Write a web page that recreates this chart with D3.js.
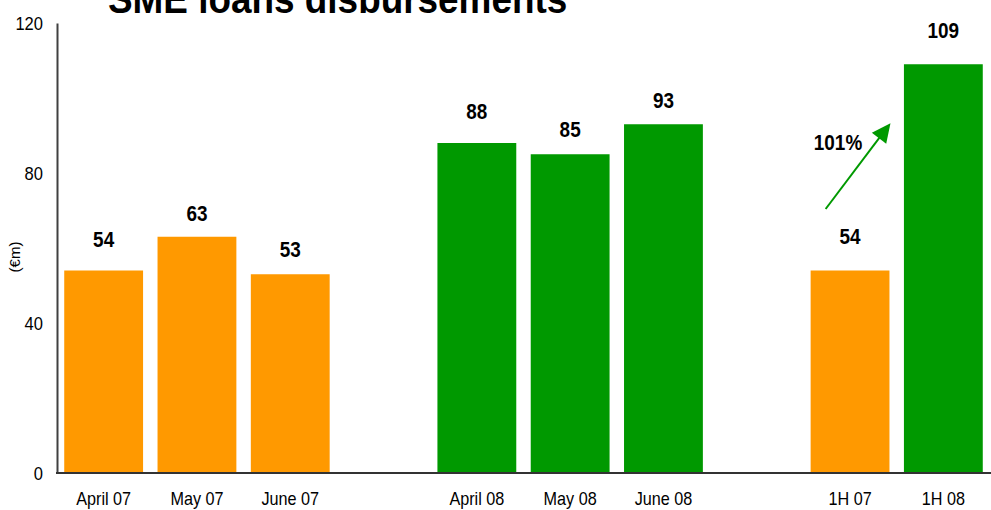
<!DOCTYPE html>
<html>
<head>
<meta charset="utf-8">
<script src="https://cdn.jsdelivr.net/npm/d3@7"></script>
<style>
  html, body { margin: 0; padding: 0; background: #fff; }
  svg { display: block; }
  text { font-family: "Liberation Sans", Arial, sans-serif; fill: #000; }
</style>
</head>
<body>
<svg id="chart" width="991" height="510"></svg>
<script>
// Monthly and half-year SME loan disbursements, € million
const categories = ["April 07", "May 07", "June 07", "April 08", "May 08", "June 08", "1H 07", "1H 08"];
const values     = [54, 63, 53, 88, 85, 93, 54, 109];
const years      = ["2007", "2007", "2007", "2008", "2008", "2008", "2007", "2008"];
const groupEnds  = ["June 07", "June 08"];   // an empty slot follows each of these
const yTicks     = [0, 40, 80, 120];
const growthLabel = "101%";

// layout: distance (px) between each bar top and its value label baseline
const labelGap = [24, 15.5, 17, 24, 17, 16, 26.5, 26];

const colour = { "2007": "#FF9900", "2008": "#009900" };
const arrowColour = "#009900";

const svg = d3.select("#chart");
const W = 991, H = 510;
const plot = { left: 57, right: 990, top: 23, bottom: 473 };
const squeeze = 0.9; // condensed lettering

// band domain with spacer slots between the three groups
const domain = [];
categories.forEach(c => {
  domain.push(c);
  if (groupEnds.includes(c)) domain.push("__gap_" + c);
});

const x = d3.scaleBand()
  .domain(domain)
  .range([plot.left, plot.right])
  .paddingInner(0.155)
  .paddingOuter(0.0775);

const y = d3.scaleLinear()
  .domain([0, 120])
  .range([plot.bottom, plot.top]);

function condensed(sel, sx) {
  return sel.attr("transform", function () {
    const tx = +this.getAttribute("data-x"), ty = +this.getAttribute("data-y");
    return `translate(${tx},${ty}) scale(${sx},1)`;
  });
}

// title, partly above the visible area
svg.append("text")
  .attr("data-x", 108).attr("data-y", 13)
  .attr("font-size", 41).attr("font-weight", "bold")
  .text("SME loans disbursements")
  .call(condensed, squeeze);

// bars
svg.append("g").selectAll("rect")
  .data(categories)
  .join("rect")
  .attr("x", c => x(c))
  .attr("width", x.bandwidth())
  .attr("y", (c, i) => y(values[i]))
  .attr("height", (c, i) => y(0) - y(values[i]))
  .attr("fill", (c, i) => colour[years[i]]);

// value labels
svg.append("g").selectAll("text")
  .data(categories)
  .join("text")
  .attr("data-x", c => x(c) + x.bandwidth() / 2)
  .attr("data-y", (c, i) => y(values[i]) - labelGap[i])
  .attr("text-anchor", "middle")
  .attr("font-size", 21.5).attr("font-weight", "bold")
  .text((c, i) => values[i])
  .call(condensed, 0.88);

// y axis: line and labels, no tick marks
const yAxis = svg.append("g")
  .attr("transform", `translate(${plot.left},0)`)
  .call(d3.axisLeft(y).tickValues(yTicks).tickSize(0).tickPadding(14));
yAxis.select(".domain").attr("stroke", "#404040").attr("stroke-width", 2);
yAxis.selectAll(".tick text")
  .attr("font-size", 18)
  .attr("font-family", "Liberation Sans, Arial, sans-serif")
  .attr("fill", "#000")
  .attr("transform", "scale(0.92,1)")
  .attr("x", -14 / 0.92)
  .attr("dy", "0.36em");

// baseline across the whole width
svg.append("line")
  .attr("x1", plot.left - 1).attr("x2", W)
  .attr("y1", y(0)).attr("y2", y(0))
  .attr("stroke", "#333").attr("stroke-width", 2);

// category labels
svg.append("g").selectAll("text")
  .data(categories)
  .join("text")
  .attr("data-x", c => x(c) + x.bandwidth() / 2)
  .attr("data-y", 505)
  .attr("text-anchor", "middle")
  .attr("font-size", 18)
  .text(c => c)
  .call(condensed, squeeze);

// y axis title
svg.append("text")
  .attr("transform", `translate(20,257) rotate(-90)`)
  .attr("text-anchor", "middle")
  .attr("font-size", 15)
  .text("(€m)");

// growth arrow between the half-year bars
const h1 = categories[6];
const ax1 = x(h1) + 15, ay1 = y(70.4);
const ax2 = x(h1) + x.bandwidth() + 1, ay2 = y(93.3);
const ang = Math.atan2(ay2 - ay1, ax2 - ax1);
const headLen = 19, headHalf = 9;
const bx = ax2 - headLen * Math.cos(ang), by = ay2 - headLen * Math.sin(ang);
svg.append("line")
  .attr("x1", ax1).attr("y1", ay1)
  .attr("x2", bx + 2 * Math.cos(ang)).attr("y2", by + 2 * Math.sin(ang))
  .attr("stroke", arrowColour).attr("stroke-width", 2);
svg.append("path")
  .attr("d", d3.line()([
    [ax2, ay2],
    [bx + headHalf * Math.sin(ang), by - headHalf * Math.cos(ang)],
    [bx - headHalf * Math.sin(ang), by + headHalf * Math.cos(ang)]
  ]) + "Z")
  .attr("fill", arrowColour);

svg.append("text")
  .attr("data-x", 838).attr("data-y", 150)
  .attr("text-anchor", "middle")
  .attr("font-size", 21.5).attr("font-weight", "bold")
  .text(growthLabel)
  .call(condensed, 0.88);
</script>
</body>
</html>
